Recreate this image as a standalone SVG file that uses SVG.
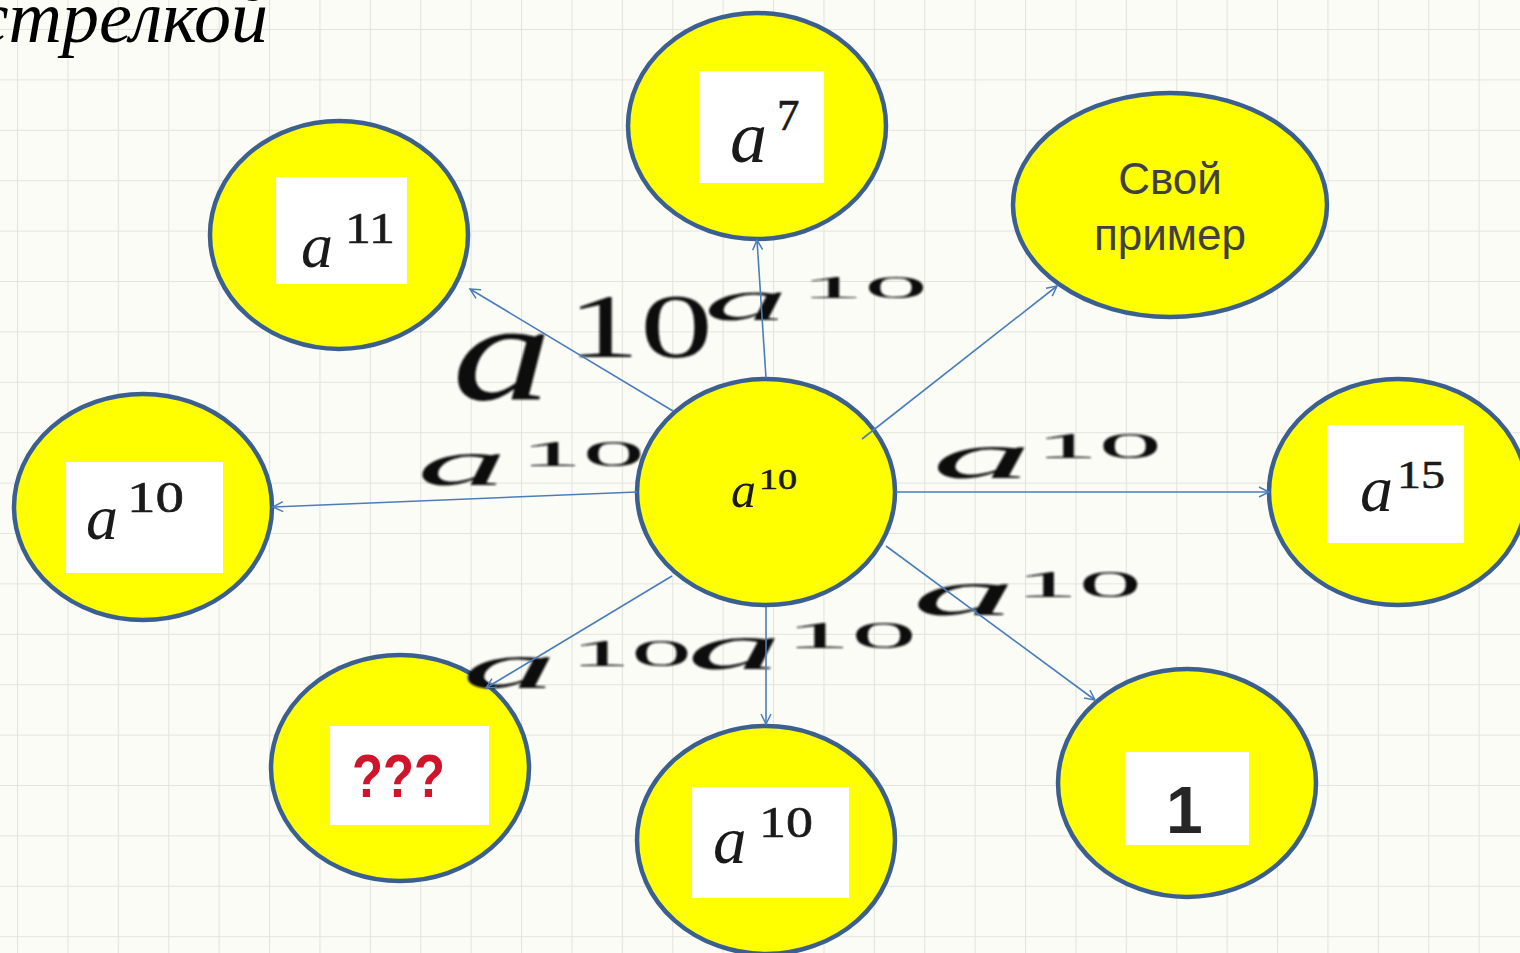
<svg xmlns="http://www.w3.org/2000/svg" width="1520" height="953" viewBox="0 0 1520 953">
<defs>
<pattern id="grid" patternUnits="userSpaceOnUse" x="17" y="29" width="50.4" height="50.4">
<path d="M0,0 V50.4 M0,0 H50.4" fill="none" stroke="#e4e4de" stroke-width="2.2"/>
</pattern>
<marker id="arr" markerUnits="userSpaceOnUse" markerWidth="14" markerHeight="14" refX="11" refY="6" orient="auto">
<path d="M1,1 L11,6 L1,11" fill="none" stroke="#4a7ebb" stroke-width="1.5"/>
</marker>
<filter id="soft" x="-10%" y="-10%" width="120%" height="120%"><feGaussianBlur stdDeviation="0.9"/></filter>
</defs>
<style>
.node{fill:#ffff00;stroke:#3b6090;stroke-width:4.5}
.box{fill:#ffffff}
.mi{font-family:"Liberation Serif","DejaVu Serif",serif;font-style:italic;fill:#1a1a1a}
.mn{font-family:"Liberation Serif","DejaVu Serif",serif;fill:#1a1a1a;stroke:#1a1a1a;stroke-width:0.6}
.conn{stroke:#4a7ebb;stroke-width:1.6;fill:none;marker-end:url(#arr)}
.lbl{font-family:"Liberation Serif","DejaVu Serif",serif;fill:#111}
.lbl .i{font-style:italic}
</style>
<rect x="0" y="0" width="1520" height="953" fill="#fcfcf7"/>
<rect x="0" y="0" width="1520" height="953" fill="url(#grid)"/>
<text x="268" y="42" font-family="Liberation Serif,DejaVu Serif,serif" font-style="italic" font-size="74" text-anchor="end" fill="#000">стрелкой</text>

<g id="n-a11">
<ellipse class="node" cx="339" cy="235" rx="129" ry="114"/>
<rect class="box" x="276" y="177" width="131" height="107"/>
<text class="mi" x="301" y="267" font-size="64">a</text>
<text class="mn" x="345" y="243" font-size="45" textLength="50" lengthAdjust="spacingAndGlyphs">11</text>
</g>
<g id="n-a7">
<ellipse class="node" cx="757" cy="126" rx="129" ry="113"/>
<rect class="box" x="699" y="71" width="125" height="112"/>
<text class="mi" x="730" y="162" font-size="74">a</text>
<text class="mn" x="777" y="130" font-size="45">7</text>
</g>
<g id="n-own">
<ellipse class="node" cx="1170" cy="205" rx="157" ry="112"/>
<text x="1170" y="194" font-family="Liberation Sans,Arial,sans-serif" font-size="44" fill="#404040" text-anchor="middle">Свой</text>
<text x="1170" y="250" font-family="Liberation Sans,Arial,sans-serif" font-size="44" fill="#404040" text-anchor="middle">пример</text>
</g>
<g id="n-a10-left">
<ellipse class="node" cx="143" cy="507" rx="129" ry="113"/>
<rect class="box" x="66" y="462" width="157" height="111"/>
<text class="mi" x="86" y="539" font-size="64">a</text>
<text class="mn" x="127" y="512" font-size="45" textLength="57" lengthAdjust="spacingAndGlyphs">10</text>
</g>
<g id="n-center">
<ellipse class="node" cx="766" cy="492" rx="129" ry="113"/>
<text class="mi" x="731" y="507" font-size="50">a</text>
<text class="mn" x="759" y="489" font-size="29" textLength="38" lengthAdjust="spacingAndGlyphs" stroke-width="0.4">10</text>
</g>
<g id="n-a15">
<ellipse class="node" cx="1398" cy="492" rx="129" ry="113"/>
<rect class="box" x="1327" y="425" width="137" height="118"/>
<text class="mi" x="1360" y="511" font-size="66">a</text>
<text class="mn" x="1397" y="488" font-size="40" textLength="48" lengthAdjust="spacingAndGlyphs">15</text>
</g>
<g id="n-qqq">
<ellipse class="node" cx="400" cy="768" rx="129" ry="113"/>
<rect class="box" x="330" y="726" width="159" height="99"/>
<text x="352" y="797" font-family="Liberation Sans,Arial,sans-serif" font-weight="bold" font-size="62" fill="#d0142c" textLength="93" lengthAdjust="spacingAndGlyphs">???</text>
</g>
<g id="n-a10-bottom">
<ellipse class="node" cx="766" cy="840" rx="129" ry="114"/>
<rect class="box" x="692" y="787" width="157" height="111"/>
<text class="mi" x="713" y="863" font-size="67">a</text>
<text class="mn" x="759" y="837" font-size="45" textLength="54" lengthAdjust="spacingAndGlyphs">10</text>
</g>
<g id="n-one">
<ellipse class="node" cx="1187" cy="783" rx="129" ry="114"/>
<rect class="box" x="1125" y="752" width="124" height="93"/>
<text x="1166" y="833" font-family="Liberation Sans,Arial,sans-serif" font-weight="bold" font-size="66" fill="#262626">1</text>
</g>

<g id="edge-labels" class="lbl" filter="url(#soft)">
<text class="i" x="452" y="400" font-size="140" textLength="100" lengthAdjust="spacingAndGlyphs">a</text>
<text x="567" y="357" font-size="92" textLength="146" lengthAdjust="spacingAndGlyphs">10</text>
<text class="i" x="704" y="320" font-size="60" textLength="84" lengthAdjust="spacingAndGlyphs">a</text>
<text x="800" y="298" font-size="31" textLength="128" lengthAdjust="spacingAndGlyphs">10</text>
<text class="i" x="417" y="485" font-size="65" textLength="90" lengthAdjust="spacingAndGlyphs">a</text>
<text x="520" y="466" font-size="36" textLength="125" lengthAdjust="spacingAndGlyphs">10</text>
<text class="i" x="932" y="478" font-size="65" textLength="100" lengthAdjust="spacingAndGlyphs">a</text>
<text x="1035" y="458" font-size="35" textLength="127" lengthAdjust="spacingAndGlyphs">10</text>
<text class="i" x="912" y="615" font-size="65" textLength="104" lengthAdjust="spacingAndGlyphs">a</text>
<text x="1015" y="597" font-size="37" textLength="127" lengthAdjust="spacingAndGlyphs">10</text>
<text class="i" x="687" y="669" font-size="65" textLength="95" lengthAdjust="spacingAndGlyphs">a</text>
<text x="785" y="648" font-size="38" textLength="132" lengthAdjust="spacingAndGlyphs">10</text>
<text class="i" x="462" y="688" font-size="65" textLength="95" lengthAdjust="spacingAndGlyphs">a</text>
<text x="570" y="666" font-size="38" textLength="122" lengthAdjust="spacingAndGlyphs">10</text>
</g>

<g id="connectors">
<line class="conn" x1="673" y1="411" x2="470" y2="289"/>
<line class="conn" x1="766" y1="378" x2="757" y2="240"/>
<line class="conn" x1="862" y1="439" x2="1057" y2="286"/>
<line class="conn" x1="637" y1="492" x2="273" y2="507"/>
<line class="conn" x1="896" y1="492" x2="1269" y2="492"/>
<line class="conn" x1="672" y1="576" x2="486" y2="688"/>
<line class="conn" x1="766" y1="607" x2="766" y2="724"/>
<line class="conn" x1="886" y1="546" x2="1095" y2="700"/>
</g>
</svg>
